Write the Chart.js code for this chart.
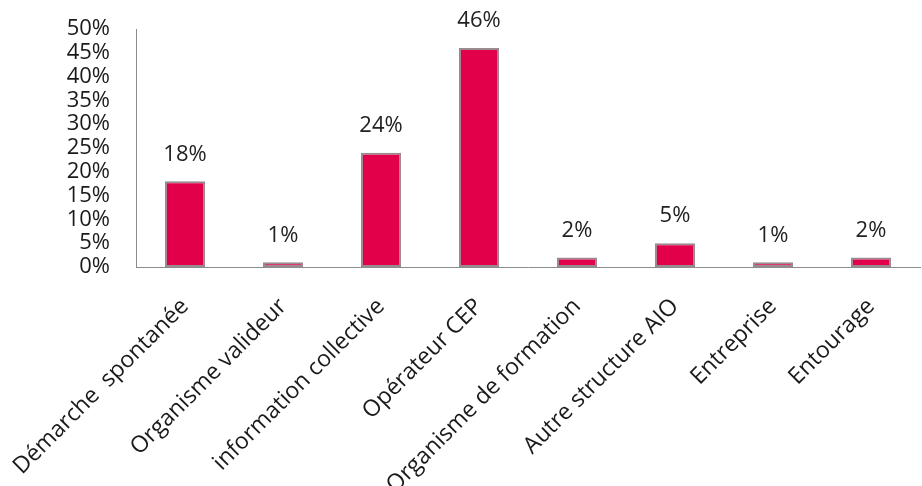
<!DOCTYPE html>
<html>
<head>
<meta charset="utf-8">
<script src="https://cdn.jsdelivr.net/npm/chart.js@4/dist/chart.umd.min.js"></script>
<style>
	html, body { margin: 0; padding: 0; background: #fff; }
	#wrap { width: 922px; height: 486px; }
</style>
</head>
<body>
<div id="wrap"><canvas id="cntx_origine" width="922" height="486"></canvas></div>
<script>
const categories = [
	"Démarche  spontanée",
	"Organisme valideur",
	"information collective",
	"Opérateur CEP",
	"Organisme de formation",
	"Autre structure AIO",
	"Entreprise",
	"Entourage",
];
const percentages = [18, 1, 24, 46, 2, 5, 1, 2];
const yTicks = [0, 5, 10, 15, 20, 25, 30, 35, 40, 45, 50];

const FONT = "'Open Sans', 'Noto Sans', sans-serif";

// writes the percentage above each bar
const valueLabels = {
	id: "valueLabels",
	afterDatasetsDraw: (chart) => {
		const ctx = chart.ctx;
		const meta = chart.getDatasetMeta(0);
		ctx.save();
		ctx.font = "22px " + FONT;
		ctx.fillStyle = "#222";
		ctx.textAlign = "center";
		ctx.textBaseline = "middle";
		meta.data.forEach((bar, i) => {
			ctx.fillText(percentages[i] + "%", bar.x, bar.y - 27);
		});
		ctx.restore();
	},
};

drawChart = (canvas) => {
	const myChart = new Chart(canvas, {
		type: "bar",
		data: {
			labels: categories,
			datasets: [
				{
					data: percentages,
					backgroundColor: "#e2004a",
					borderColor: "#9a8a90",
					borderWidth: 2,
					borderSkipped: false,
					categoryPercentage: 1,
					barPercentage: 0.41,
				},
			],
		},
		options: {
			responsive: false,
			animation: false,
			layout: {
				padding: { top: 29, right: 2, left: 0, bottom: 0 },
			},
			plugins: {
				legend: { display: false },
				tooltip: { enabled: false },
			},
			scales: {
				x: {
					grid: { display: false, drawTicks: false },
					border: { display: true, color: "#8c8c8c", width: 1 },
					ticks: {
						minRotation: 45,
						maxRotation: 45,
						autoSkip: false,
						padding: 26,
						color: "#1a1a1a",
						font: { size: 23, family: FONT },
					},
					afterFit: (scale) => {
						// labels may run off the left/bottom edge
						scale.height = 219;
						scale.paddingLeft = 0;
						scale.paddingRight = 0;
					},
				},
				y: {
					min: 0,
					max: 50,
					afterBuildTicks: (scale) => {
						scale.ticks = yTicks.map((v) => ({ value: v }));
					},
					grid: { display: false, drawTicks: false },
					border: { display: true, color: "#8c8c8c", width: 1 },
					ticks: {
						autoSkip: false,
						padding: 26,
						color: "#1a1a1a",
						font: { size: 22, family: FONT, lineHeight: 1 },
						callback: (v) => v + "%",
					},
					afterFit: (scale) => {
						scale.width = 136;
						scale.paddingTop = 0;
						scale.paddingBottom = 0;
					},
				},
			},
		},
		plugins: [valueLabels],
	});
};
drawChart(document.querySelector("#cntx_origine"));
</script>
</body>
</html>
